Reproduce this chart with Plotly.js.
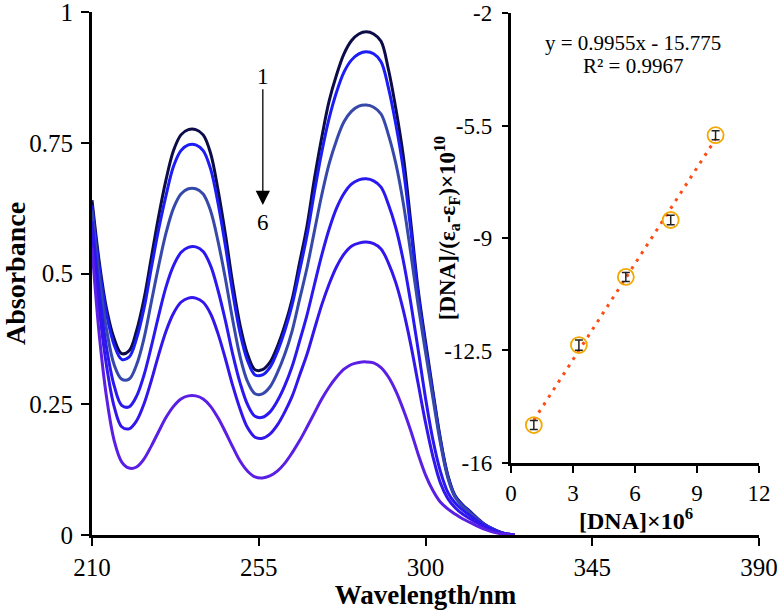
<!DOCTYPE html>
<html>
<head>
<meta charset="utf-8">
<script src="https://cdn.plot.ly/plotly-3.0.1.min.js"></script>
<style>html,body{margin:0;padding:0;background:#fff;}#chart{width:779px;height:610px;}</style>
</head>
<body>
<div id="chart"></div>
<script>
// Wavelength grid (nm)
const wavelength = [210,212,214,216,218,220,222,224,226,228,230,232,234,236,238,240,242,244,246,248,250,252,254,256,258,260,262,264,266,268,270,272,274,276,278,280,282,284,286,288,290,292,294,296,298,300,302,304,306,308,310,312,314,316,318,320,322,324];

// Absorbance spectra 1..6
const abs1 = [0.64,0.52,0.43,0.375,0.347,0.352,0.39,0.45,0.53,0.61,0.68,0.735,0.765,0.775,0.775,0.765,0.73,0.66,0.575,0.48,0.40,0.345,0.316,0.316,0.33,0.36,0.40,0.45,0.52,0.59,0.68,0.76,0.83,0.88,0.92,0.945,0.958,0.962,0.958,0.944,0.89,0.815,0.725,0.60,0.47,0.37,0.275,0.185,0.115,0.075,0.058,0.045,0.032,0.02,0.012,0.006,0.002,0.0];
const abs2 = [0.63,0.51,0.42,0.363,0.336,0.34,0.375,0.432,0.51,0.585,0.65,0.705,0.735,0.746,0.746,0.735,0.70,0.635,0.553,0.462,0.385,0.333,0.306,0.306,0.32,0.35,0.39,0.44,0.505,0.572,0.655,0.732,0.797,0.847,0.885,0.908,0.92,0.924,0.92,0.905,0.855,0.785,0.70,0.585,0.462,0.362,0.27,0.182,0.113,0.074,0.057,0.044,0.031,0.02,0.012,0.006,0.002,0.0];
const abs3 = [0.62,0.49,0.39,0.325,0.298,0.298,0.325,0.375,0.445,0.515,0.578,0.625,0.652,0.662,0.662,0.652,0.62,0.562,0.49,0.41,0.34,0.293,0.27,0.27,0.283,0.31,0.345,0.39,0.45,0.51,0.58,0.65,0.71,0.755,0.79,0.81,0.82,0.822,0.818,0.805,0.765,0.71,0.635,0.54,0.44,0.35,0.262,0.177,0.11,0.072,0.055,0.043,0.03,0.019,0.011,0.005,0.002,0.0];
const abs4 = [0.60,0.46,0.355,0.285,0.248,0.245,0.265,0.305,0.36,0.42,0.475,0.515,0.54,0.55,0.551,0.542,0.515,0.468,0.41,0.345,0.29,0.249,0.227,0.225,0.235,0.256,0.285,0.322,0.37,0.42,0.478,0.535,0.585,0.625,0.653,0.671,0.679,0.681,0.677,0.665,0.632,0.587,0.525,0.445,0.355,0.262,0.182,0.122,0.082,0.061,0.048,0.037,0.027,0.018,0.01,0.005,0.002,0.0];
const abs5 = [0.58,0.43,0.32,0.245,0.207,0.203,0.218,0.25,0.295,0.345,0.39,0.424,0.445,0.453,0.453,0.445,0.423,0.385,0.337,0.285,0.24,0.205,0.187,0.185,0.193,0.21,0.235,0.265,0.305,0.345,0.393,0.44,0.48,0.513,0.537,0.552,0.558,0.56,0.557,0.547,0.52,0.482,0.43,0.365,0.29,0.215,0.15,0.10,0.07,0.052,0.04,0.031,0.023,0.015,0.008,0.004,0.001,0.0];
const abs6 = [0.55,0.38,0.26,0.18,0.14,0.128,0.13,0.145,0.17,0.198,0.225,0.246,0.26,0.266,0.266,0.26,0.246,0.224,0.197,0.168,0.141,0.122,0.111,0.109,0.113,0.122,0.137,0.157,0.18,0.206,0.233,0.26,0.283,0.302,0.317,0.326,0.33,0.331,0.329,0.32,0.302,0.275,0.24,0.20,0.155,0.115,0.085,0.063,0.05,0.04,0.031,0.024,0.017,0.011,0.006,0.003,0.001,0.0];
const spectra = [abs1, abs2, abs3, abs4, abs5, abs6];
const spectraColors = ['#0c0c48','#1c1cf5','#3648aa','#2a18f0','#3216ec','#5a1ee4'];

// Inset: binding plot
const dnaX = [1.11, 3.29, 5.56, 7.73, 9.9];
const dnaY = [-14.82, -12.33, -10.21, -8.44, -5.80];
const dnaErr = [0.14, 0.16, 0.14, 0.15, 0.14];
const fitSlope = 0.9955;
const fitIntercept = -15.775;

const mainXTicks = [210, 255, 300, 345, 390];
const mainYTicks = [0, 0.25, 0.5, 0.75, 1];
const mainYTickText = ['0', '0.25', '0.5', '0.75', '1'];
const insetXTicks = [0, 3, 6, 9, 12];
const insetYTicks = [-16, -12.5, -9, -5.5, -2];
const insetYTickText = ['-16', '-12.5', '-9', '-5.5', '-2'];

const serif = '"Liberation Serif", "Times New Roman", Times, serif';

const traces = spectra.map((vals, i) => ({
  x: wavelength, y: vals, type: 'scatter', mode: 'lines',
  line: {color: spectraColors[i], width: 3, shape: 'spline', smoothing: 1},
  xaxis: 'x', yaxis: 'y', showlegend: false, hoverinfo: 'skip'
}));

const fitX = [Math.min(...dnaX), Math.max(...dnaX)];
traces.push({
  x: fitX, y: fitX.map(v => fitSlope * v + fitIntercept),
  type: 'scatter', mode: 'lines',
  line: {color: '#ff4a14', width: 3, dash: '3px,6px'},
  xaxis: 'x2', yaxis: 'y2', showlegend: false
});
traces.push({
  x: dnaX, y: dnaY, type: 'scatter', mode: 'markers',
  marker: {symbol: 'circle-open', size: 16, color: '#f2a800', line: {width: 1.8, color: '#f2a800'}},
  error_y: {type: 'data', array: dnaErr, visible: true, color: '#222', thickness: 1.5, width: 4},
  xaxis: 'x2', yaxis: 'y2', showlegend: false
});

function axisCommon(size) {
  return {
    showgrid: false, zeroline: false, showline: true, linecolor: '#000', linewidth: 3,
    ticks: 'outside', tickcolor: '#000', tickwidth: 2, mirror: false,
    ticklabeloverflow: 'allow',
    tickfont: {family: serif, size: size, color: '#000'}
  };
}

const layout = {
  width: 779, height: 610,
  margin: {l: 92, r: 20, t: 12, b: 75},
  paper_bgcolor: '#fff', plot_bgcolor: 'rgba(0,0,0,0)',
  font: {family: serif, color: '#000'},
  showlegend: false,
  xaxis: Object.assign(axisCommon(25), {
    domain: [0, 1], range: [210, 390], tickvals: mainXTicks, ticklen: 8,
    ticklabelstandoff: 0,
    title: {text: '<b>Wavelength/nm</b>', font: {family: serif, size: 27, color: '#000'}, standoff: 6}
  }),
  yaxis: Object.assign(axisCommon(25), {
    domain: [0, 1], range: [0, 1], tickvals: mainYTicks, ticktext: mainYTickText, ticklen: 8,
    ticklabelstandoff: 3,
    title: {text: '<b>Absorbance</b>', font: {family: serif, size: 28, color: '#000'}, standoff: 14}
  }),
  xaxis2: Object.assign(axisCommon(23), {
    domain: [0.628, 1], range: [0, 12], tickvals: insetXTicks, ticklen: 7, anchor: 'y2',
    ticklabelstandoff: 0
  }),
  yaxis2: Object.assign(axisCommon(23), {
    domain: [0.1377, 0.998], range: [-16, -2], tickvals: insetYTicks, ticktext: insetYTickText, ticklen: 6, anchor: 'x2',
    ticklabelstandoff: 5
  }),
  annotations: [
    {xref: 'paper', yref: 'paper', x: 0.5325, y: 0.587, textangle: -90, xanchor: 'center', yanchor: 'middle',
     text: '<b>[DNA]/(ε<sub>a</sub>-ε<sub>F</sub>)×10<sup>10</sup></b>', showarrow: false,
     font: {family: serif, size: 23, color: '#000'}},
    {xref: 'paper', yref: 'paper', x: 0.8156, y: 0.031, xanchor: 'center', yanchor: 'middle',
     text: '<b>[DNA]×10<sup>6</sup></b>', showarrow: false,
     font: {family: serif, size: 24, color: '#000'}},
    {xref: 'x2', yref: 'paper', x: 5.9, y: 0.94, xanchor: 'center', yanchor: 'middle', text: 'y = 0.9955x - 15.775', showarrow: false,
     font: {family: serif, size: 21, color: '#000'}},
    {xref: 'x2', yref: 'paper', x: 5.9, y: 0.897, xanchor: 'center', yanchor: 'middle', text: 'R² = 0.9967', showarrow: false,
     font: {family: serif, size: 21, color: '#000'}},
    {xref: 'x', yref: 'y', x: 256.1, y: 0.876, text: '1', showarrow: false,
     font: {family: serif, size: 23, color: '#000'}},
    {xref: 'x', yref: 'y', x: 256.1, y: 0.598, text: '6', showarrow: false,
     font: {family: serif, size: 23, color: '#000'}},
    {xref: 'x', yref: 'y', x: 256.1, y: 0.631, axref: 'x', ayref: 'y', ax: 256.1, ay: 0.855,
     text: '', showarrow: true, arrowhead: 2, arrowsize: 2.2, arrowwidth: 1.3, arrowcolor: '#000', standoff: 0}
  ]
};

Plotly.newPlot('chart', traces, layout, {displayModeBar: false, staticPlot: true});
</script>
</body>
</html>
